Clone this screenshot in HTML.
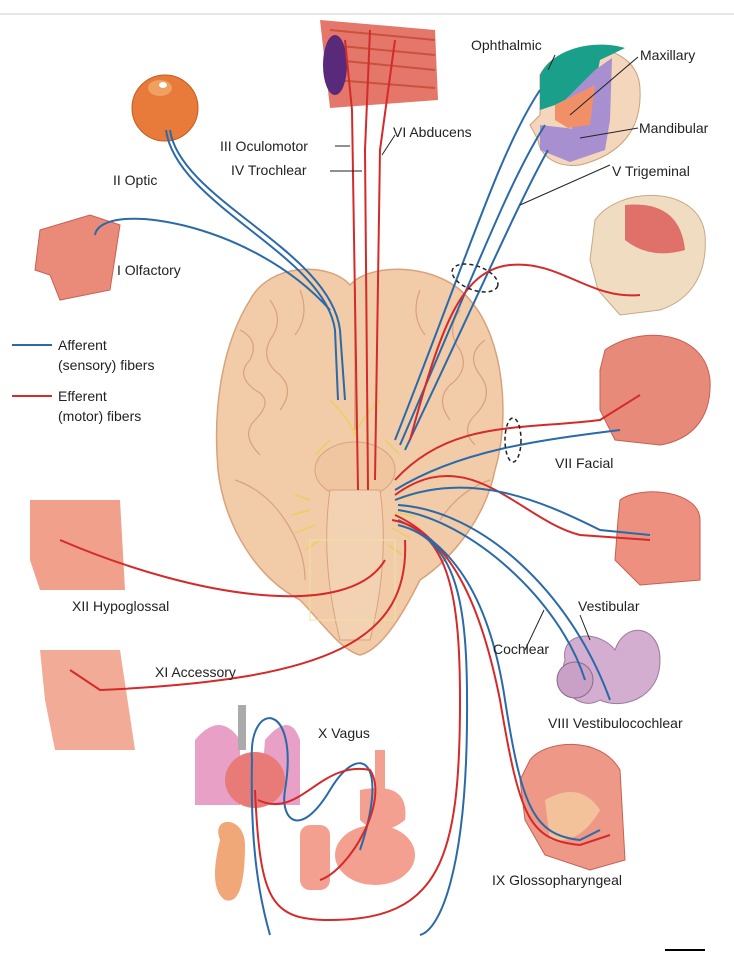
<!DOCTYPE html>
<html><head><meta charset="utf-8"><style>
html,body{margin:0;padding:0;background:#fff}
svg{display:block}
text{font-family:"Liberation Sans",sans-serif;font-size:14px;fill:#222}
</style></head><body>
<svg width="734" height="954" viewBox="0 0 734 954" xmlns="http://www.w3.org/2000/svg">
<line x1="0" y1="14" x2="734" y2="14" stroke="#ddd" stroke-width="1.5"/>
<path d="M250,300 C270,262 330,262 350,285 C370,262 440,262 470,300 C505,340 510,420 495,470 C485,520 450,560 420,580 C400,620 380,650 360,655 C340,650 320,620 300,600 C260,580 225,530 218,470 C212,400 225,340 250,300Z" fill="#f2cba9" stroke="#d9a27a" stroke-width="1.5"/>
<g fill="none" stroke="#d9a27a" stroke-width="1.2">
<path d="M240,330 q20,10 10,30 q-15,15 5,30 q20,10 0,30 q-15,15 5,35"/>
<path d="M270,300 q15,20 0,40 q-10,20 10,35 q15,15 0,35"/>
<path d="M460,310 q-15,20 0,40 q10,20 -10,35 q-15,15 0,35"/>
<path d="M485,340 q-20,15 -5,35 q15,20 -5,40 q-15,15 0,30"/>
<path d="M300,290 q10,25 -5,45 M420,290 q-10,25 5,45"/>
<path d="M235,480 q30,10 50,40 q20,30 20,60 M490,480 q-30,10 -50,40"/>
</g>
<path d="M355,285 L355,430" stroke="#d9a27a" stroke-width="1.5"/>
<ellipse cx="355" cy="470" rx="40" ry="28" fill="#f0c6a0" stroke="#d9a27a"/>
<path d="M330,490 Q320,560 340,640 L370,640 Q390,560 380,490Z" fill="#f3d2b3" stroke="#d9a27a"/>
<g stroke="#e8d060" stroke-width="1.5" fill="none">
<path d="M310,500 l-15,-5 M310,510 l-18,5 M315,525 l-20,8 M320,540 l-15,10 M395,500 l18,-5 M395,512 l20,5 M392,528 l18,10 M388,545 l15,10"/>
<path d="M330,400 q20,20 25,35 q5,-15 25,-35 M330,440 l-15,15 M385,440 l15,15"/>
</g>
<rect x="310" y="540" width="85" height="80" fill="none" stroke="#efe3a0" stroke-width="1"/>
<circle cx="165" cy="108" r="33" fill="#e87a3a" stroke="#c65a22"/>
<ellipse cx="160" cy="88" rx="12" ry="8" fill="#f0a060"/>
<ellipse cx="163" cy="85" rx="4" ry="3" fill="#fff"/>
<path d="M320,20 L435,30 L438,100 L330,108 Z" fill="#e4776a"/>
<g stroke="#c9523f" stroke-width="2"><line x1="330" y1="30" x2="435" y2="40"/><line x1="330" y1="45" x2="435" y2="55"/><line x1="335" y1="60" x2="435" y2="70"/><line x1="335" y1="80" x2="435" y2="88"/></g>
<ellipse cx="335" cy="65" rx="12" ry="30" fill="#5a2a7a"/>
<path d="M540,75 C560,35 640,40 640,90 C642,130 620,155 580,165 C555,168 540,155 538,140 L530,125 L540,115Z" fill="#f3d6bc" stroke="#c8a080"/>
<path d="M540,75 C555,45 600,40 625,48 L600,60 L595,85 L555,105 L540,110Z" fill="#1aa08a"/>
<path d="M595,70 L612,58 L610,120 L580,140 L570,125 L565,100Z" fill="#a890d0"/>
<path d="M555,105 L595,85 L590,125 L568,128 L555,120Z" fill="#f08f68"/>
<path d="M540,125 L585,130 L610,120 L605,150 L570,162 L540,150Z" fill="#a890d0"/>
<path d="M595,220 C620,185 700,185 705,235 C708,275 690,300 660,310 L620,315 L598,290 L590,260Z" fill="#f0dcc0" stroke="#c8a888"/>
<path d="M625,205 Q680,200 685,250 Q650,260 625,240Z" fill="#e0706a"/>
<path d="M605,350 C640,325 705,330 710,380 C712,420 690,440 660,445 L615,440 L600,410 L600,370Z" fill="#e88a7a" stroke="#c76050"/>
<path d="M620,500 C640,485 700,490 700,520 L700,580 L640,585 L615,560 L618,520Z" fill="#ee9080" stroke="#c76050"/>
<path d="M565,660 C560,630 600,630 615,650 C625,620 660,625 660,660 C660,700 620,710 600,700 C580,712 555,690 565,660Z" fill="#d4aed0" stroke="#9a7a9a"/>
<circle cx="575" cy="680" r="18" fill="#c9a0c6" stroke="#8a6a8a"/>
<path d="M530,760 C545,740 600,735 620,770 L625,860 L590,870 L545,855 L525,820 L520,780Z" fill="#ee9888" stroke="#c76050"/>
<path d="M545,800 Q580,780 600,810 Q580,845 550,840Z" fill="#f4c29a"/>
<path d="M40,230 L90,215 L120,225 L110,290 L60,300 L50,275 L35,270Z" fill="#ea8a78" stroke="#c76050"/>
<path d="M30,500 L120,500 L125,590 L40,590 L30,560Z" fill="#f1a08c"/>
<path d="M40,650 L120,650 L135,750 L55,750 L45,700Z" fill="#f2ab96"/>
<path d="M195,740 Q220,710 240,740 L240,805 L195,805Z" fill="#e9a0c6"/>
<path d="M265,740 Q290,710 300,740 L300,805 L260,805Z" fill="#e9a0c6"/>
<rect x="238" y="705" width="8" height="45" fill="#aaa"/>
<ellipse cx="255" cy="780" rx="30" ry="28" fill="#e87a78"/>
<path d="M220,840 C210,815 245,815 245,845 C245,880 240,905 225,900 C210,890 215,860 220,840Z" fill="#f0a878"/>
<rect x="375" y="750" width="10" height="40" fill="#f4a090"/>
<path d="M360,790 Q410,780 405,820 Q380,840 360,820Z" fill="#f4a090"/>
<ellipse cx="375" cy="855" rx="40" ry="30" fill="#f4a090"/>
<rect x="300" y="825" width="30" height="65" rx="10" fill="#f4a090"/>
<g fill="none" stroke-width="2">
<path d="M170,130 C180,200 330,250 340,330 L345,400" stroke="#2a6aa8"/>
<path d="M166,130 C176,205 325,255 335,330 L338,400" stroke="#2a6aa8"/>
<path d="M95,235 C100,200 250,220 330,310" stroke="#2a6aa8"/>
<path d="M345,40 L352,110 L358,490" stroke="#d42a2a"/>
<path d="M370,30 L365,150 L368,490" stroke="#d42a2a"/>
<path d="M395,40 L380,150 L375,480" stroke="#d42a2a"/>
<path d="M540,90 C500,150 470,250 395,440" stroke="#2a6aa8"/>
<path d="M545,125 C510,180 480,260 400,445" stroke="#2a6aa8"/>
<path d="M548,150 C520,200 490,270 405,450" stroke="#2a6aa8"/>
<path d="M410,440 C440,330 460,270 510,265 C560,260 590,300 640,295" stroke="#d42a2a"/>
<path d="M395,480 C450,420 520,430 600,420 L640,395" stroke="#d42a2a"/>
<path d="M395,490 C460,450 540,440 620,430" stroke="#2a6aa8"/>
<path d="M395,495 C470,440 520,520 580,535 L650,540" stroke="#d42a2a"/>
<path d="M395,500 C470,470 540,500 600,530 L650,535" stroke="#2a6aa8"/>
<path d="M398,510 C470,520 560,600 585,680" stroke="#2a6aa8"/>
<path d="M398,505 C480,510 570,590 610,700" stroke="#2a6aa8"/>
<path d="M395,515 C450,540 480,600 500,700 C520,820 530,840 580,845 L610,835" stroke="#d42a2a"/>
<path d="M398,520 C455,545 490,600 505,700 C522,810 535,835 580,840 L600,830" stroke="#2a6aa8"/>
<path d="M392,520 C450,530 460,600 460,700 C460,860 440,920 330,920 C270,920 260,900 255,790" stroke="#d42a2a"/>
<path d="M398,525 C460,540 468,610 467,720 C466,870 440,930 420,935" stroke="#2a6aa8"/>
<path d="M270,935 C260,900 250,850 252,760 C248,700 300,700 285,790 C280,820 300,840 330,790 C360,740 390,760 360,850" stroke="#2a6aa8"/>
<path d="M258,800 C300,820 320,760 370,770 C390,800 350,870 320,880" stroke="#d42a2a"/>
<path d="M385,560 C350,620 200,600 60,540" stroke="#d42a2a"/>
<path d="M405,540 C410,640 330,680 100,690 L70,670" stroke="#d42a2a"/>
<line x1="12" y1="345" x2="52" y2="345" stroke="#2a6aa8"/>
<line x1="12" y1="396" x2="52" y2="396" stroke="#d42a2a"/>
</g>
<g stroke="#222" stroke-width="1" fill="none">
<line x1="335" y1="146" x2="350" y2="146"/><line x1="330" y1="171" x2="362" y2="171"/>
<line x1="382" y1="155" x2="395" y2="135"/>
<line x1="520" y1="205" x2="610" y2="165"/>
<line x1="638" y1="57" x2="570" y2="115"/><line x1="638" y1="128" x2="580" y2="138"/>
<line x1="555" y1="55" x2="548" y2="70"/>
<line x1="544" y1="610" x2="525" y2="650"/><line x1="580" y1="615" x2="590" y2="640"/>
</g>
<g stroke="#222" stroke-width="1.5" stroke-dasharray="4,3" fill="none">
<ellipse cx="475" cy="278" rx="24" ry="12" transform="rotate(20 475 278)"/>
<ellipse cx="513" cy="440" rx="8" ry="22"/>
</g>
<line x1="665" y1="950" x2="705" y2="950" stroke="#000" stroke-width="2"/>
<text x="471" y="50">Ophthalmic</text>
<text x="640" y="60">Maxillary</text>
<text x="639" y="133">Mandibular</text>
<text x="612" y="176">V  Trigeminal</text>
<text x="393" y="137">VI  Abducens</text>
<text x="220" y="151">III  Oculomotor</text>
<text x="231" y="175">IV  Trochlear</text>
<text x="113" y="185">II  Optic</text>
<text x="117" y="275">I  Olfactory</text>
<text x="58" y="350">Afferent</text>
<text x="58" y="370">(sensory) fibers</text>
<text x="58" y="401">Efferent</text>
<text x="58" y="421">(motor) fibers</text>
<text x="555" y="468">VII  Facial</text>
<text x="578" y="611">Vestibular</text>
<text x="493" y="654">Cochlear</text>
<text x="548" y="728">VIII  Vestibulocochlear</text>
<text x="72" y="611">XII  Hypoglossal</text>
<text x="155" y="677">XI  Accessory</text>
<text x="318" y="738">X  Vagus</text>
<text x="492" y="885">IX  Glossopharyngeal</text>
</svg>
</body></html>
